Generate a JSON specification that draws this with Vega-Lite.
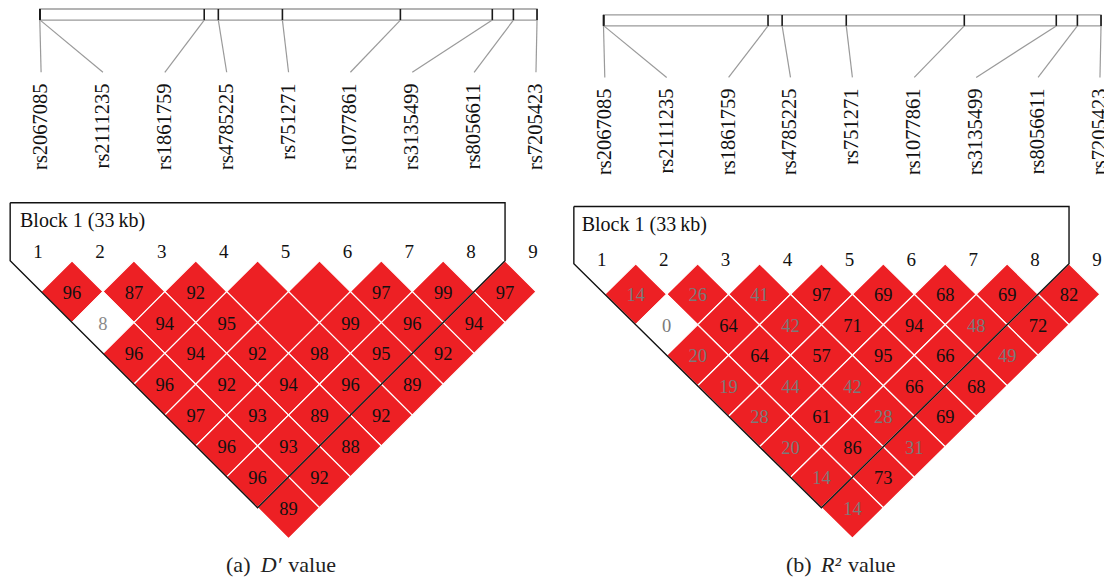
{
  "$schema": "https://vega.github.io/schema/vega-lite/v6.json",
  "padding": 0,
  "spacing": 0,
  "bounds": "flush",
  "background": "white",
  "config": {"view": {"stroke": null}},
  "datasets": {
    "markers": [
      {"k": 1, "name": "rs2067085", "map": 0.979},
      {"k": 2, "name": "rs2111235", "map": 0.985},
      {"k": 3, "name": "rs1861759", "map": 3.637},
      {"k": 4, "name": "rs4785225", "map": 3.865},
      {"k": 5, "name": "rs751271", "map": 4.901},
      {"k": 6, "name": "rs1077861", "map": 6.808},
      {"k": 7, "name": "rs3135499", "map": 8.294},
      {"k": 8, "name": "rs8056611", "map": 8.635},
      {"k": 9, "name": "rs7205423", "map": 9.017}
    ],
    "blockinfo": [{"label": "Block 1 (33\u2009kb)"}],
    "block": [
      {"o": 1, "bx": 0.5, "br": -1.88},
      {"o": 2, "bx": 8.5, "br": -1.88},
      {"o": 3, "bx": 8.5, "br": 0},
      {"o": 4, "bx": 4.5, "br": 8},
      {"o": 5, "bx": 0.5, "br": 0},
      {"o": 6, "bx": 0.5, "br": -1.88}
    ],
    "captions": [
      {"p": "D", "a": "(a)", "sym": "D\u2032", "rest": "value"},
      {"p": "R", "a": "(b)", "sym": "R\u00b2", "rest": "value"}
    ],
    "ld": [
      {"p": "D", "mid": 1.5, "dist": 1, "v": 96, "ld": "strong"},
      {"p": "D", "mid": 2.5, "dist": 1, "v": 87, "ld": "strong"},
      {"p": "D", "mid": 3.5, "dist": 1, "v": 92, "ld": "strong"},
      {"p": "D", "mid": 4.5, "dist": 1, "v": 100, "ld": "strong"},
      {"p": "D", "mid": 5.5, "dist": 1, "v": 100, "ld": "strong"},
      {"p": "D", "mid": 6.5, "dist": 1, "v": 97, "ld": "strong"},
      {"p": "D", "mid": 7.5, "dist": 1, "v": 99, "ld": "strong"},
      {"p": "D", "mid": 8.5, "dist": 1, "v": 97, "ld": "strong"},
      {"p": "D", "mid": 2, "dist": 2, "v": 8, "ld": "weak"},
      {"p": "D", "mid": 3, "dist": 2, "v": 94, "ld": "strong"},
      {"p": "D", "mid": 4, "dist": 2, "v": 95, "ld": "strong"},
      {"p": "D", "mid": 5, "dist": 2, "v": 100, "ld": "strong"},
      {"p": "D", "mid": 6, "dist": 2, "v": 99, "ld": "strong"},
      {"p": "D", "mid": 7, "dist": 2, "v": 96, "ld": "strong"},
      {"p": "D", "mid": 8, "dist": 2, "v": 94, "ld": "strong"},
      {"p": "D", "mid": 2.5, "dist": 3, "v": 96, "ld": "strong"},
      {"p": "D", "mid": 3.5, "dist": 3, "v": 94, "ld": "strong"},
      {"p": "D", "mid": 4.5, "dist": 3, "v": 92, "ld": "strong"},
      {"p": "D", "mid": 5.5, "dist": 3, "v": 98, "ld": "strong"},
      {"p": "D", "mid": 6.5, "dist": 3, "v": 95, "ld": "strong"},
      {"p": "D", "mid": 7.5, "dist": 3, "v": 92, "ld": "strong"},
      {"p": "D", "mid": 3, "dist": 4, "v": 96, "ld": "strong"},
      {"p": "D", "mid": 4, "dist": 4, "v": 92, "ld": "strong"},
      {"p": "D", "mid": 5, "dist": 4, "v": 94, "ld": "strong"},
      {"p": "D", "mid": 6, "dist": 4, "v": 96, "ld": "strong"},
      {"p": "D", "mid": 7, "dist": 4, "v": 89, "ld": "strong"},
      {"p": "D", "mid": 3.5, "dist": 5, "v": 97, "ld": "strong"},
      {"p": "D", "mid": 4.5, "dist": 5, "v": 93, "ld": "strong"},
      {"p": "D", "mid": 5.5, "dist": 5, "v": 89, "ld": "strong"},
      {"p": "D", "mid": 6.5, "dist": 5, "v": 92, "ld": "strong"},
      {"p": "D", "mid": 4, "dist": 6, "v": 96, "ld": "strong"},
      {"p": "D", "mid": 5, "dist": 6, "v": 93, "ld": "strong"},
      {"p": "D", "mid": 6, "dist": 6, "v": 88, "ld": "strong"},
      {"p": "D", "mid": 4.5, "dist": 7, "v": 96, "ld": "strong"},
      {"p": "D", "mid": 5.5, "dist": 7, "v": 92, "ld": "strong"},
      {"p": "D", "mid": 5, "dist": 8, "v": 89, "ld": "strong"},
      {"p": "R", "mid": 1.5, "dist": 1, "v": 14, "ld": "strong"},
      {"p": "R", "mid": 2.5, "dist": 1, "v": 26, "ld": "strong"},
      {"p": "R", "mid": 3.5, "dist": 1, "v": 41, "ld": "strong"},
      {"p": "R", "mid": 4.5, "dist": 1, "v": 97, "ld": "strong"},
      {"p": "R", "mid": 5.5, "dist": 1, "v": 69, "ld": "strong"},
      {"p": "R", "mid": 6.5, "dist": 1, "v": 68, "ld": "strong"},
      {"p": "R", "mid": 7.5, "dist": 1, "v": 69, "ld": "strong"},
      {"p": "R", "mid": 8.5, "dist": 1, "v": 82, "ld": "strong"},
      {"p": "R", "mid": 2, "dist": 2, "v": 0, "ld": "weak"},
      {"p": "R", "mid": 3, "dist": 2, "v": 64, "ld": "strong"},
      {"p": "R", "mid": 4, "dist": 2, "v": 42, "ld": "strong"},
      {"p": "R", "mid": 5, "dist": 2, "v": 71, "ld": "strong"},
      {"p": "R", "mid": 6, "dist": 2, "v": 94, "ld": "strong"},
      {"p": "R", "mid": 7, "dist": 2, "v": 48, "ld": "strong"},
      {"p": "R", "mid": 8, "dist": 2, "v": 72, "ld": "strong"},
      {"p": "R", "mid": 2.5, "dist": 3, "v": 20, "ld": "strong"},
      {"p": "R", "mid": 3.5, "dist": 3, "v": 64, "ld": "strong"},
      {"p": "R", "mid": 4.5, "dist": 3, "v": 57, "ld": "strong"},
      {"p": "R", "mid": 5.5, "dist": 3, "v": 95, "ld": "strong"},
      {"p": "R", "mid": 6.5, "dist": 3, "v": 66, "ld": "strong"},
      {"p": "R", "mid": 7.5, "dist": 3, "v": 49, "ld": "strong"},
      {"p": "R", "mid": 3, "dist": 4, "v": 19, "ld": "strong"},
      {"p": "R", "mid": 4, "dist": 4, "v": 44, "ld": "strong"},
      {"p": "R", "mid": 5, "dist": 4, "v": 42, "ld": "strong"},
      {"p": "R", "mid": 6, "dist": 4, "v": 66, "ld": "strong"},
      {"p": "R", "mid": 7, "dist": 4, "v": 68, "ld": "strong"},
      {"p": "R", "mid": 3.5, "dist": 5, "v": 28, "ld": "strong"},
      {"p": "R", "mid": 4.5, "dist": 5, "v": 61, "ld": "strong"},
      {"p": "R", "mid": 5.5, "dist": 5, "v": 28, "ld": "strong"},
      {"p": "R", "mid": 6.5, "dist": 5, "v": 69, "ld": "strong"},
      {"p": "R", "mid": 4, "dist": 6, "v": 20, "ld": "strong"},
      {"p": "R", "mid": 5, "dist": 6, "v": 86, "ld": "strong"},
      {"p": "R", "mid": 6, "dist": 6, "v": 31, "ld": "strong"},
      {"p": "R", "mid": 4.5, "dist": 7, "v": 14, "ld": "strong"},
      {"p": "R", "mid": 5.5, "dist": 7, "v": 73, "ld": "strong"},
      {"p": "R", "mid": 5, "dist": 8, "v": 14, "ld": "strong"}
    ]
  },
  "hconcat": [
    {
      "width": 552,
      "height": 577,
      "layer": [
        {
          "data": {"name": "markers"},
          "transform": [{"aggregate": [{"op": "min", "field": "map", "as": "lo"}, {"op": "max", "field": "map", "as": "hi"}]}],
          "mark": {"type": "rect", "fill": "#ffffff", "stroke": "#9a9a9a", "strokeWidth": 1.3},
          "encoding": {
            "x": {"field": "lo", "type": "quantitative", "scale": {"domain": [0.3356, 9.259], "nice": false, "zero": false}, "axis": null},
            "x2": {"field": "hi"},
            "y": {"datum": -8.16, "type": "quantitative", "scale": {"domain": [-8.452, 10.245], "nice": false, "zero": false, "reverse": true}, "axis": null},
            "y2": {"datum": -7.8}
          }
        },
        {
          "data": {"name": "markers"},
          "mark": {"type": "rule", "color": "#1a1a1a", "strokeWidth": 1.6},
          "encoding": {
            "x": {"field": "map", "type": "quantitative", "scale": {"domain": [0.3356, 9.259], "nice": false, "zero": false}, "axis": null},
            "y": {"datum": -8.16, "type": "quantitative", "scale": {"domain": [-8.452, 10.245], "nice": false, "zero": false, "reverse": true}, "axis": null},
            "y2": {"datum": -7.8}
          }
        },
        {
          "data": {"name": "markers"},
          "mark": {"type": "rule", "color": "#9a9a9a", "strokeWidth": 1.2},
          "encoding": {
            "x": {"field": "map", "type": "quantitative", "scale": {"domain": [0.3356, 9.259], "nice": false, "zero": false}, "axis": null},
            "x2": {"field": "k"},
            "y": {"datum": -7.8, "type": "quantitative", "scale": {"domain": [-8.452, 10.245], "nice": false, "zero": false, "reverse": true}, "axis": null},
            "y2": {"datum": -6.11}
          }
        },
        {
          "data": {"name": "markers"},
          "mark": {"type": "text", "angle": 270, "align": "right", "baseline": "middle", "font": "Liberation Serif", "fontSize": 20.5, "color": "#111111"},
          "encoding": {
            "x": {"field": "k", "type": "quantitative", "scale": {"domain": [0.3356, 9.259], "nice": false, "zero": false}, "axis": null},
            "y": {"datum": -5.75, "type": "quantitative", "scale": {"domain": [-8.452, 10.245], "nice": false, "zero": false, "reverse": true}, "axis": null},
            "text": {"field": "name", "type": "nominal"}
          }
        },
        {
          "data": {"name": "ld"},
          "transform": [{"filter": "datum.p == 'D'"}],
          "mark": {"type": "point", "shape": "M-1,0L0,-0.998L1,0L0,0.998Z", "size": 3827, "filled": true, "opacity": 1, "stroke": "#ffffff", "strokeWidth": 1.2},
          "encoding": {
            "x": {"field": "mid", "type": "quantitative", "scale": {"domain": [0.3356, 9.259], "nice": false, "zero": false}, "axis": null},
            "y": {"field": "dist", "type": "quantitative", "scale": {"domain": [-8.452, 10.245], "nice": false, "zero": false, "reverse": true}, "axis": null},
            "color": {"field": "ld", "type": "nominal", "scale": {"domain": ["strong", "weak"], "range": ["#ed2024", "#ffffff"]}, "legend": null}
          }
        },
        {
          "data": {"name": "ld"},
          "transform": [{"filter": "datum.p == 'D' && datum.v < 100"}],
          "mark": {"type": "text", "font": "Liberation Serif", "fontSize": 18.5, "baseline": "middle", "align": "center", "dy": 1},
          "encoding": {
            "x": {"field": "mid", "type": "quantitative", "scale": {"domain": [0.3356, 9.259], "nice": false, "zero": false}, "axis": null},
            "y": {"field": "dist", "type": "quantitative", "scale": {"domain": [-8.452, 10.245], "nice": false, "zero": false, "reverse": true}, "axis": null},
            "text": {"field": "v", "type": "nominal"},
            "color": {"condition": {"test": "datum.v < 50", "value": "#8a8a8a"}, "value": "#111111"}
          }
        },
        {
          "data": {"name": "block"},
          "mark": {"type": "line", "color": "#111111", "strokeWidth": 1.4},
          "encoding": {
            "x": {"field": "bx", "type": "quantitative", "scale": {"domain": [0.3356, 9.259], "nice": false, "zero": false}, "axis": null},
            "y": {"field": "br", "type": "quantitative", "scale": {"domain": [-8.452, 10.245], "nice": false, "zero": false, "reverse": true}, "axis": null},
            "order": {"field": "o", "type": "quantitative"}
          }
        },
        {
          "data": {"name": "blockinfo"},
          "mark": {"type": "text", "align": "left", "baseline": "alphabetic", "font": "Liberation Serif", "fontSize": 20, "color": "#111111"},
          "encoding": {
            "x": {"datum": 0.659, "type": "quantitative", "scale": {"domain": [0.3356, 9.259], "nice": false, "zero": false}, "axis": null},
            "y": {"datum": -1.09, "type": "quantitative", "scale": {"domain": [-8.452, 10.245], "nice": false, "zero": false, "reverse": true}, "axis": null},
            "text": {"field": "label", "type": "nominal"}
          }
        },
        {
          "data": {"name": "markers"},
          "mark": {"type": "text", "align": "center", "baseline": "middle", "font": "Liberation Serif", "fontSize": 19, "color": "#111111", "dx": -3},
          "encoding": {
            "x": {"field": "k", "type": "quantitative", "scale": {"domain": [0.3356, 9.259], "nice": false, "zero": false}, "axis": null},
            "y": {"datum": -0.286, "type": "quantitative", "scale": {"domain": [-8.452, 10.245], "nice": false, "zero": false, "reverse": true}, "axis": null},
            "text": {"field": "k", "type": "nominal"}
          }
        },
        {
          "data": {"name": "captions"},
          "transform": [{"filter": "datum.p == 'D'"}],
          "mark": {"type": "text", "align": "left", "baseline": "alphabetic", "font": "Liberation Serif", "fontSize": 22, "color": "#222222", "dx": -62.5},
          "encoding": {
            "x": {"datum": 5, "type": "quantitative", "scale": {"domain": [0.3356, 9.259], "nice": false, "zero": false}, "axis": null},
            "y": {"datum": 10.07, "type": "quantitative", "scale": {"domain": [-8.452, 10.245], "nice": false, "zero": false, "reverse": true}, "axis": null},
            "text": {"field": "a", "type": "nominal"}
          }
        },
        {
          "data": {"name": "captions"},
          "transform": [{"filter": "datum.p == 'D'"}],
          "mark": {"type": "text", "align": "left", "baseline": "alphabetic", "font": "Liberation Serif", "fontStyle": "italic", "fontSize": 22, "color": "#222222", "dx": -27.8},
          "encoding": {
            "x": {"datum": 5, "type": "quantitative", "scale": {"domain": [0.3356, 9.259], "nice": false, "zero": false}, "axis": null},
            "y": {"datum": 10.07, "type": "quantitative", "scale": {"domain": [-8.452, 10.245], "nice": false, "zero": false, "reverse": true}, "axis": null},
            "text": {"field": "sym", "type": "nominal"}
          }
        },
        {
          "data": {"name": "captions"},
          "transform": [{"filter": "datum.p == 'D'"}],
          "mark": {"type": "text", "align": "left", "baseline": "alphabetic", "font": "Liberation Serif", "fontSize": 22, "color": "#222222", "dx": -0.2},
          "encoding": {
            "x": {"datum": 5, "type": "quantitative", "scale": {"domain": [0.3356, 9.259], "nice": false, "zero": false}, "axis": null},
            "y": {"datum": 10.07, "type": "quantitative", "scale": {"domain": [-8.452, 10.245], "nice": false, "zero": false, "reverse": true}, "axis": null},
            "text": {"field": "rest", "type": "nominal"}
          }
        }
      ]
    },
    {
      "width": 552,
      "height": 577,
      "layer": [
        {
          "data": {"name": "markers"},
          "transform": [{"aggregate": [{"op": "min", "field": "map", "as": "lo"}, {"op": "max", "field": "map", "as": "hi"}]}],
          "mark": {"type": "rect", "fill": "#ffffff", "stroke": "#9a9a9a", "strokeWidth": 1.3},
          "encoding": {
            "x": {"field": "lo", "type": "quantitative", "scale": {"domain": [0.147, 9.065], "nice": false, "zero": false}, "axis": null},
            "x2": {"field": "hi"},
            "y": {"datum": -8.16, "type": "quantitative", "scale": {"domain": [-8.649, 10.269], "nice": false, "zero": false, "reverse": true}, "axis": null},
            "y2": {"datum": -7.8}
          }
        },
        {
          "data": {"name": "markers"},
          "mark": {"type": "rule", "color": "#1a1a1a", "strokeWidth": 1.6},
          "encoding": {
            "x": {"field": "map", "type": "quantitative", "scale": {"domain": [0.147, 9.065], "nice": false, "zero": false}, "axis": null},
            "y": {"datum": -8.16, "type": "quantitative", "scale": {"domain": [-8.649, 10.269], "nice": false, "zero": false, "reverse": true}, "axis": null},
            "y2": {"datum": -7.8}
          }
        },
        {
          "data": {"name": "markers"},
          "mark": {"type": "rule", "color": "#9a9a9a", "strokeWidth": 1.2},
          "encoding": {
            "x": {"field": "map", "type": "quantitative", "scale": {"domain": [0.147, 9.065], "nice": false, "zero": false}, "axis": null},
            "x2": {"field": "k"},
            "y": {"datum": -7.8, "type": "quantitative", "scale": {"domain": [-8.649, 10.269], "nice": false, "zero": false, "reverse": true}, "axis": null},
            "y2": {"datum": -6.11}
          }
        },
        {
          "data": {"name": "markers"},
          "mark": {"type": "text", "angle": 270, "align": "right", "baseline": "middle", "font": "Liberation Serif", "fontSize": 20.5, "color": "#111111"},
          "encoding": {
            "x": {"field": "k", "type": "quantitative", "scale": {"domain": [0.147, 9.065], "nice": false, "zero": false}, "axis": null},
            "y": {"datum": -5.75, "type": "quantitative", "scale": {"domain": [-8.649, 10.269], "nice": false, "zero": false, "reverse": true}, "axis": null},
            "text": {"field": "name", "type": "nominal"}
          }
        },
        {
          "data": {"name": "ld"},
          "transform": [{"filter": "datum.p == 'R'"}],
          "mark": {"type": "point", "shape": "M-1,0L0,-0.9855L1,0L0,0.9855Z", "size": 3832, "filled": true, "opacity": 1, "stroke": "#ffffff", "strokeWidth": 1.2},
          "encoding": {
            "x": {"field": "mid", "type": "quantitative", "scale": {"domain": [0.147, 9.065], "nice": false, "zero": false}, "axis": null},
            "y": {"field": "dist", "type": "quantitative", "scale": {"domain": [-8.649, 10.269], "nice": false, "zero": false, "reverse": true}, "axis": null},
            "color": {"field": "ld", "type": "nominal", "scale": {"domain": ["strong", "weak"], "range": ["#ed2024", "#ffffff"]}, "legend": null}
          }
        },
        {
          "data": {"name": "ld"},
          "transform": [{"filter": "datum.p == 'R' && datum.v < 100"}],
          "mark": {"type": "text", "font": "Liberation Serif", "fontSize": 18.5, "baseline": "middle", "align": "center", "dy": 1},
          "encoding": {
            "x": {"field": "mid", "type": "quantitative", "scale": {"domain": [0.147, 9.065], "nice": false, "zero": false}, "axis": null},
            "y": {"field": "dist", "type": "quantitative", "scale": {"domain": [-8.649, 10.269], "nice": false, "zero": false, "reverse": true}, "axis": null},
            "text": {"field": "v", "type": "nominal"},
            "color": {"condition": {"test": "datum.v < 50", "value": "#7a7a7a"}, "value": "#111111"}
          }
        },
        {
          "data": {"name": "block"},
          "mark": {"type": "line", "color": "#111111", "strokeWidth": 1.4},
          "encoding": {
            "x": {"field": "bx", "type": "quantitative", "scale": {"domain": [0.147, 9.065], "nice": false, "zero": false}, "axis": null},
            "y": {"field": "br", "type": "quantitative", "scale": {"domain": [-8.649, 10.269], "nice": false, "zero": false, "reverse": true}, "axis": null},
            "order": {"field": "o", "type": "quantitative"}
          }
        },
        {
          "data": {"name": "blockinfo"},
          "mark": {"type": "text", "align": "left", "baseline": "alphabetic", "font": "Liberation Serif", "fontSize": 20, "color": "#111111"},
          "encoding": {
            "x": {"datum": 0.627, "type": "quantitative", "scale": {"domain": [0.147, 9.065], "nice": false, "zero": false}, "axis": null},
            "y": {"datum": -1.075, "type": "quantitative", "scale": {"domain": [-8.649, 10.269], "nice": false, "zero": false, "reverse": true}, "axis": null},
            "text": {"field": "label", "type": "nominal"}
          }
        },
        {
          "data": {"name": "markers"},
          "mark": {"type": "text", "align": "center", "baseline": "middle", "font": "Liberation Serif", "fontSize": 19, "color": "#111111", "dx": -3},
          "encoding": {
            "x": {"field": "k", "type": "quantitative", "scale": {"domain": [0.147, 9.065], "nice": false, "zero": false}, "axis": null},
            "y": {"datum": -0.125, "type": "quantitative", "scale": {"domain": [-8.649, 10.269], "nice": false, "zero": false, "reverse": true}, "axis": null},
            "text": {"field": "k", "type": "nominal"}
          }
        },
        {
          "data": {"name": "captions"},
          "transform": [{"filter": "datum.p == 'R'"}],
          "mark": {"type": "text", "align": "left", "baseline": "alphabetic", "font": "Liberation Serif", "fontSize": 22, "color": "#222222", "dx": -66.4},
          "encoding": {
            "x": {"datum": 5, "type": "quantitative", "scale": {"domain": [0.147, 9.065], "nice": false, "zero": false}, "axis": null},
            "y": {"datum": 10.089, "type": "quantitative", "scale": {"domain": [-8.649, 10.269], "nice": false, "zero": false, "reverse": true}, "axis": null},
            "text": {"field": "a", "type": "nominal"}
          }
        },
        {
          "data": {"name": "captions"},
          "transform": [{"filter": "datum.p == 'R'"}],
          "mark": {"type": "text", "align": "left", "baseline": "alphabetic", "font": "Liberation Serif", "fontStyle": "italic", "fontSize": 22, "color": "#222222", "dx": -31.4},
          "encoding": {
            "x": {"datum": 5, "type": "quantitative", "scale": {"domain": [0.147, 9.065], "nice": false, "zero": false}, "axis": null},
            "y": {"datum": 10.089, "type": "quantitative", "scale": {"domain": [-8.649, 10.269], "nice": false, "zero": false, "reverse": true}, "axis": null},
            "text": {"field": "sym", "type": "nominal"}
          }
        },
        {
          "data": {"name": "captions"},
          "transform": [{"filter": "datum.p == 'R'"}],
          "mark": {"type": "text", "align": "left", "baseline": "alphabetic", "font": "Liberation Serif", "fontSize": 22, "color": "#222222", "dx": -4.4},
          "encoding": {
            "x": {"datum": 5, "type": "quantitative", "scale": {"domain": [0.147, 9.065], "nice": false, "zero": false}, "axis": null},
            "y": {"datum": 10.089, "type": "quantitative", "scale": {"domain": [-8.649, 10.269], "nice": false, "zero": false, "reverse": true}, "axis": null},
            "text": {"field": "rest", "type": "nominal"}
          }
        }
      ]
    }
  ]
}
